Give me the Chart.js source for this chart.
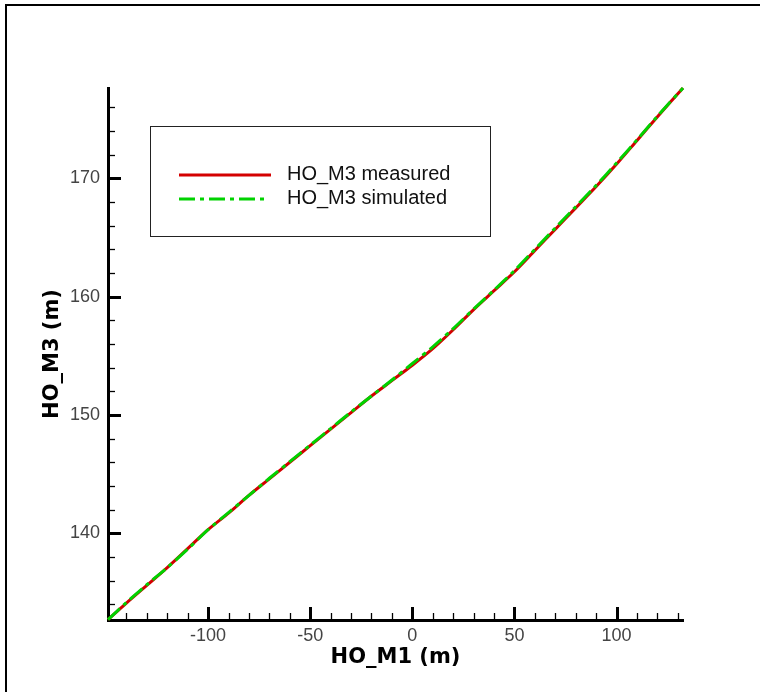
<!DOCTYPE html>
<html>
<head>
<meta charset="utf-8">
<script src="https://cdn.jsdelivr.net/npm/chart.js@4.4.1/dist/chart.umd.min.js"></script>
<style>
    html, body { margin: 0; padding: 0; background: #fff; }
    #wrap { width: 765px; height: 692px; }
</style>
</head>
<body>
<div id="wrap"><canvas id="chart" width="765" height="692"></canvas></div>
<script>
const seriesNames = ['HO_M3 measured', 'HO_M3 simulated'];

const xMeasured = [-149, -140, -130, -120, -110, -100, -90, -80, -70, -60, -50, -40, -30, -20, -10,
    0, 10, 20, 30, 40, 50, 60, 70, 80, 90, 100, 110, 120, 132.5];
const yMeasured = [132.7, 134.1, 135.6, 137.1, 138.7, 140.3, 141.7, 143.2, 144.6, 146.0, 147.4, 148.8, 150.2, 151.6, 152.9,
    154.2, 155.6, 157.2, 158.9, 160.5, 162.1, 163.9, 165.7, 167.5, 169.3, 171.2, 173.2, 175.2, 177.63];

const xSimulated = [-149, -140, -130, -120, -110, -100, -90, -80, -70, -60, -50, -40, -30, -20, -10,
    0, 10, 20, 30, 40, 50, 60, 70, 80, 90, 100, 110, 120, 132.5];
const ySimulated = [132.7, 134.15, 135.65, 137.1, 138.65, 140.3, 141.75, 143.2, 144.65, 146.05, 147.45, 148.85, 150.25, 151.6, 152.95,
    154.35, 155.75, 157.3, 158.95, 160.55, 162.2, 164.0, 165.8, 167.6, 169.4, 171.3, 173.25, 175.25, 177.63];

const xTicks = [-100, -50, 0, 50, 100];
const yTicks = [140, 150, 160, 170];
const xMinorStep = 10;
const yMinorStep = 2;

const toPoints = (xs, ys) => xs.map((x, i) => ({ x: x, y: ys[i] }));

// frame, inward tick marks and the boxed legend
const extras = {
    id: 'extras',
    beforeDraw(chart) {
        const ctx = chart.ctx;
        ctx.save();
        ctx.fillStyle = '#fff';
        ctx.fillRect(0, 0, chart.width, chart.height);
        ctx.fillStyle = '#000';
        ctx.fillRect(5, 4, 755, 2);
        ctx.fillRect(5, 4, 2, chart.height - 4);
        ctx.restore();
    },
    afterDraw(chart) {
        const ctx = chart.ctx;
        const xs = chart.scales.x, ys = chart.scales.y;
        const area = chart.chartArea;
        ctx.save();
        ctx.strokeStyle = '#000';
        for (let v = Math.ceil(xs.min / xMinorStep) * xMinorStep; v <= xs.max; v += xMinorStep) {
            const major = xTicks.includes(v);
            const px = Math.round(xs.getPixelForValue(v)) + 0.5;
            ctx.lineWidth = major ? 3 : 1.3;
            ctx.beginPath();
            ctx.moveTo(px, area.bottom);
            ctx.lineTo(px, area.bottom - (major ? 13 : 7));
            ctx.stroke();
        }
        for (let v = Math.ceil(ys.min / yMinorStep) * yMinorStep; v <= ys.max; v += yMinorStep) {
            const major = yTicks.includes(v);
            const py = Math.round(ys.getPixelForValue(v)) + 0.5;
            ctx.lineWidth = major ? 3 : 1.3;
            ctx.beginPath();
            ctx.moveTo(area.left, py);
            ctx.lineTo(area.left + (major ? 13 : 7), py);
            ctx.stroke();
        }

        // legend
        ctx.lineWidth = 1;
        ctx.strokeStyle = '#222';
        ctx.setLineDash([]);
        ctx.strokeRect(150.5, 126.5, 340, 110);
        ctx.font = '20px "Liberation Sans", Arial, sans-serif';
        ctx.textBaseline = 'middle';
        ctx.fillStyle = '#111';
        chart.data.datasets.forEach((ds, i) => {
            const y = 175 + i * 24;
            ctx.strokeStyle = ds.borderColor;
            ctx.lineWidth = ds.borderWidth;
            ctx.setLineDash(ds.borderDash || []);
            ctx.beginPath();
            ctx.moveTo(179, y);
            ctx.lineTo(i === 0 ? 271 : 266, y);
            ctx.stroke();
            ctx.fillText(ds.label, 287, y - 1);
        });
        ctx.restore();
    }
};

new Chart(document.getElementById('chart'), {
    type: 'scatter',
    data: {
        datasets: [{
            label: seriesNames[0],
            data: toPoints(xMeasured, yMeasured),
            showLine: true,
            borderColor: '#d40000',
            borderWidth: 3,
            pointRadius: 0,
            tension: 0.3,
            order: 2,
            clip: 4
        }, {
            label: seriesNames[1],
            data: toPoints(xSimulated, ySimulated),
            showLine: true,
            borderColor: '#00d200',
            borderWidth: 3,
            borderDash: [16, 5, 4, 5],
            pointRadius: 0,
            tension: 0.3,
            order: 1,
            clip: 4
        }]
    },
    options: {
        responsive: false,
        animation: false,
        layout: { padding: { left: 0, top: 88, right: 82, bottom: 0 } },
        plugins: {
            legend: { display: false },
            tooltip: { enabled: false }
        },
        scales: {
            x: {
                type: 'linear',
                min: -149,
                max: 132.5,
                afterBuildTicks: s => { s.ticks = xTicks.map(v => ({ value: v })); },
                afterFit: s => { s.height = 72; },
                grid: { display: false, drawTicks: false },
                border: { display: true, color: '#000', width: 3 },
                ticks: {
                    autoSkip: false,
                    maxRotation: 0,
                    padding: 5,
                    color: '#444',
                    font: { family: '"Liberation Sans", Arial, sans-serif', size: 18 }
                },
                title: {
                    display: true,
                    text: 'HO_M1 (m)',
                    color: '#000',
                    padding: { top: 0, bottom: 22 },
                    font: { family: '"DejaVu Sans", sans-serif', size: 21, weight: 'bold' }
                }
            },
            y: {
                type: 'linear',
                min: 132.67,
                max: 177.63,
                afterBuildTicks: s => { s.ticks = yTicks.map(v => ({ value: v })); },
                afterFit: s => { s.width = 108; },
                grid: { display: false, drawTicks: false },
                border: { display: true, color: '#000', width: 3 },
                ticks: {
                    autoSkip: false,
                    padding: 8,
                    color: '#444',
                    font: { family: '"Liberation Sans", Arial, sans-serif', size: 18 }
                },
                title: {
                    display: true,
                    text: 'HO_M3 (m)',
                    color: '#000',
                    padding: { top: 40, bottom: 0 },
                    font: { family: '"DejaVu Sans", sans-serif', size: 21, weight: 'bold' }
                }
            }
        }
    },
    plugins: [extras]
});
</script>
</body>
</html>
